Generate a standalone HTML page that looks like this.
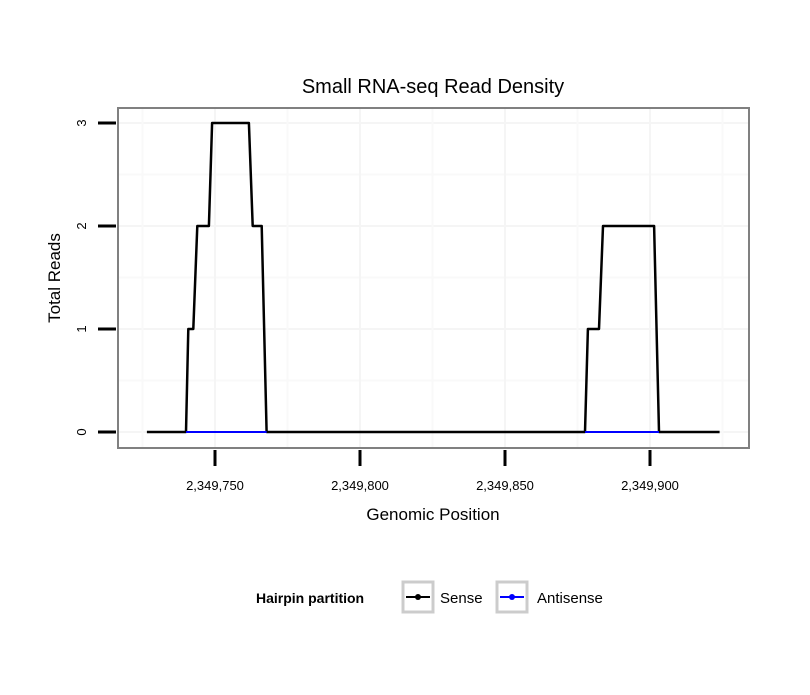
<!DOCTYPE html>
<html><head><meta charset="utf-8"><style>
body{margin:0;background:#fff;}
svg text{font-family:"Liberation Sans",sans-serif;}
</style></head><body>
<svg width="810" height="690" xmlns="http://www.w3.org/2000/svg">
<rect width="810" height="690" fill="#fff"/>
<text x="433" y="93" font-size="20" text-anchor="middle">Small RNA-seq Read Density</text>
<g id="grid"></g>
<g id="marks"></g>
<rect x="118" y="108" width="631" height="340" fill="none" stroke="#808080" stroke-width="2"/>
<g id="axes"></g>
<text x="433" y="520" font-size="17" text-anchor="middle">Genomic Position</text>
<text transform="translate(60,278) rotate(-90)" font-size="17" text-anchor="middle">Total Reads</text>
<g>
<text x="256" y="603" font-size="14" font-weight="bold">Hairpin partition</text>
<g>
<rect x="403" y="582" width="30" height="30" fill="#fff" stroke="#ccc" stroke-width="3"/>
<line x1="406" y1="597" x2="430" y2="597" stroke="#000" stroke-width="2"/><circle cx="418" cy="597" r="3" fill="#000"/>
<text x="440" y="603" font-size="15">Sense</text></g>
<g>
<rect x="497" y="582" width="30" height="30" fill="#fff" stroke="#ccc" stroke-width="3"/>
<line x1="500" y1="597" x2="524" y2="597" stroke="#00f" stroke-width="2"/><circle cx="512" cy="597" r="3" fill="#00f"/>
<text x="537" y="603" font-size="15">Antisense</text></g>
</g>
</svg>
<script>
const positions=[2349726.5,2349740.0,2349740.8,2349742.5,2349743.9,2349747.9,2349749.0,2349761.7,2349763.0,2349766.1,2349767.8,2349877.6,2349878.6,2349882.4,2349883.8,2349901.4,2349903.1,2349924];
const senseValues=[0,0,1,1,2,2,3,3,2,2,0,0,1,1,2,2,0,0];
const antisenseSegments=[[2349740.0,2349767.8],[2349877.6,2349903.1]];
const xTicks=[2349750,2349800,2349850,2349900];
const xTickLabels=["2,349,750","2,349,800","2,349,850","2,349,900"];
const yTicks=[0,1,2,3];
const xs=v=>215+(v-2349750)*2.9;
const ys=v=>432-v*103;
const NS="http://www.w3.org/2000/svg";
function mk(t,a,p){const e=document.createElementNS(NS,t);for(const k in a)e.setAttribute(k,a[k]);p.appendChild(e);return e;}
const grid=document.getElementById('grid'),marks=document.getElementById('marks'),axes=document.getElementById('axes');
for(let i=0;i<yTicks.length;i++){
  const l=mk('line',{x1:119,x2:748,y1:ys(yTicks[i]),y2:ys(yTicks[i]),stroke:'#f5f5f5','stroke-width':2},grid);
  
  
  if(i<yTicks.length-1){const m=mk('line',{x1:119,x2:748,y1:ys(yTicks[i]+0.5),y2:ys(yTicks[i]+0.5),stroke:'#f9f9f9','stroke-width':2},grid);
  
  }
  const t=mk('line',{x1:98,x2:116,y1:ys(yTicks[i]),y2:ys(yTicks[i]),stroke:'#000','stroke-width':3},axes);
  
  
  const tx=mk('text',{'font-size':13,'text-anchor':'middle',transform:`translate(86,${ys(yTicks[i])}) rotate(-90)`},axes);
  tx.textContent=yTicks[i];
  
  
}
for(let i=0;i<xTicks.length;i++){
  const l=mk('line',{x1:xs(xTicks[i]),x2:xs(xTicks[i]),y1:109,y2:447,stroke:'#f5f5f5','stroke-width':2},grid);
  
  
  const t=mk('line',{x1:xs(xTicks[i]),x2:xs(xTicks[i]),y1:450,y2:466,stroke:'#000','stroke-width':3},axes);
  
  
  const tx=mk('text',{x:xs(xTicks[i]),y:490,'font-size':13,'text-anchor':'middle'},axes);
  tx.textContent=xTickLabels[i];
  
  
}
for(let i=0;i<=xTicks.length;i++){
  const v=xTicks[0]-25+50*i;
  const m=mk('line',{x1:xs(v),x2:xs(v),y1:109,y2:447,stroke:'#f9f9f9','stroke-width':2},grid);
  
  
}
const d=positions.map((p,i)=>(i?'L':'M')+xs(p).toFixed(1)+','+ys(senseValues[i]).toFixed(1)).join(' ');
const sl=mk('path',{d:d,fill:'none',stroke:'#000','stroke-width':2.5,'stroke-linejoin':'round'},marks);


antisenseSegments.forEach(s=>{
  const a=mk('line',{x1:xs(s[0]),x2:xs(s[1]),y1:ys(0),y2:ys(0),stroke:'#00f','stroke-width':2},marks);
  
  
});
</script>
</body></html>
